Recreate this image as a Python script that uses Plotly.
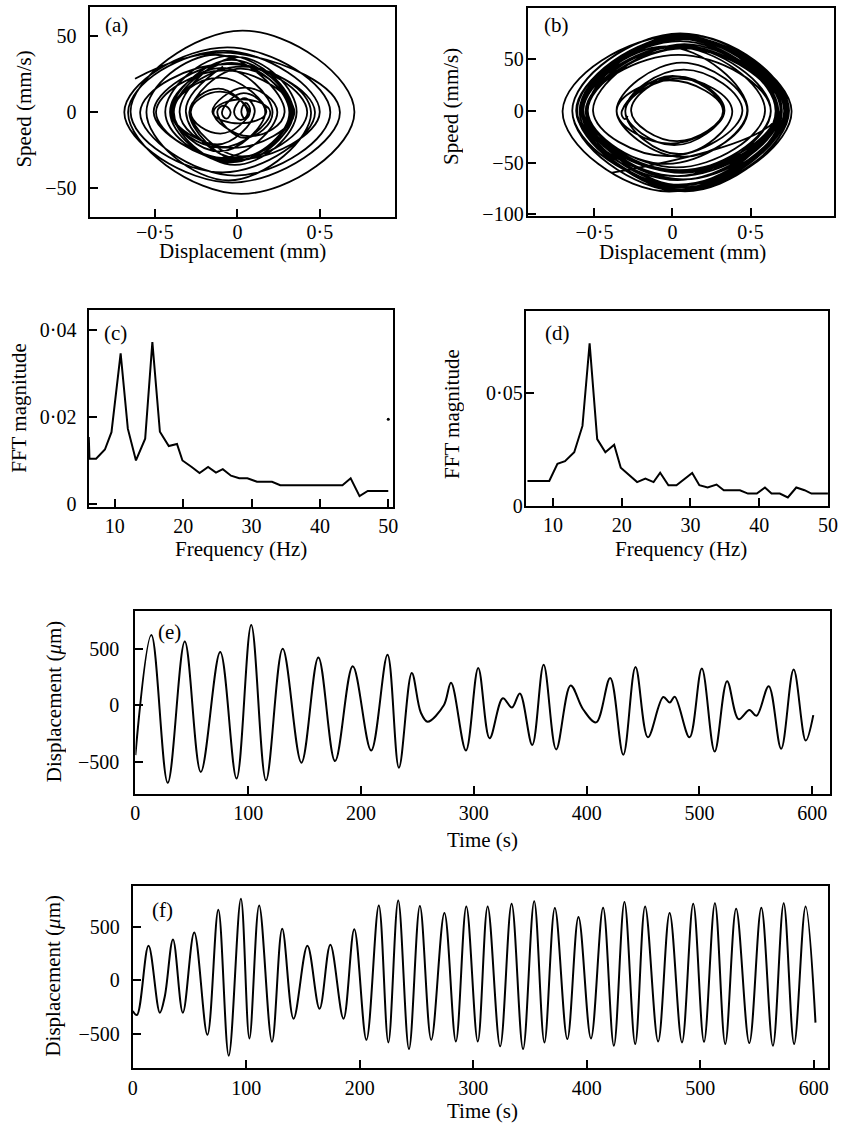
import plotly.graph_objects as go

# ---------------------------------------------------------------- data
# (e) displacement record: times of turning points and shoulders, values in µm
e_time = [0, 14.2, 28.7, 43.8, 58, 75.2, 89.7, 102.7, 115.8, 130.6, 147.2, 162.2,
          177, 192.7, 209, 223.5, 233.6, 245, 253, 259, 273.4, 279.8, 293, 303.9,
          314, 325.7, 333.8, 340.8, 351.8, 361.9, 373, 385.8, 396.8, 408.4, 420.9,
          432.5, 443.3, 454.3, 467.9, 473.7, 478.1, 491.2, 502.1, 513.5, 524.5,
          534.7, 544.3, 550.6, 561.4, 572.4, 583.5, 594.2, 600.9]
e_disp = [-440, 621, -685, 563, -589, 470, -647, 709, -662, 499, -507, 423,
          -493, 345, -399, 446, -551, 286, -64, -145, 0, 199, -399, 330,
          -291, 62, -20, 105, -350, 359, -390, 175, -35, -151, 242,
          -437, 339, -283, 73, 24, 76, -283, 324, -408, 213,
          -122, -41, -93, 169, -385, 315, -312, -87]

# (f) displacement record
f_time = [0, 3.7, 13.9, 23.9, 28.3, 35.5, 44.2, 54.2, 65.8, 75.4, 84.6, 95.3,
          102.8, 111.4, 122.7, 131.7, 141.7, 153.9, 164.6, 174.1, 185.7, 195.2,
          205.9, 216.8, 225.2, 233.9, 243.4, 253, 263, 274.6, 284.7, 293.9, 304,
          312.7, 323.7, 333.8, 343.9, 353.7, 362.7, 371.9, 382.9, 392.7, 403.7,
          414.4, 423.9, 433.2, 442.7, 451.4, 462.9, 473, 483.9, 493.8, 503.3,
          512.9, 522, 531.6, 543.2, 553.8, 564, 573.5, 582.7, 592.8, 601.5]
f_disp = [-287, -324, 324, -302, -148, 383, -302, 448, -509, 661, -704, 763,
          -543, 701, -574, 482, -358, 324, -265, 333, -358, 479,
          -556, 701, -580, 747, -642, 695, -556, 630, -571, 692, -571,
          692, -617, 716, -642, 741, -580, 676, -549, 593, -543,
          679, -611, 732, -595, 692, -571, 630, -580, 716, -574,
          722, -595, 670, -586, 679, -611, 722, -595, 692, -395]

# (a) phase plane: start state, displacement turning points (mm),
# peak speed on each half swing (mm/s), end state
a_start = (-0.62, 22)
a_turn_disp = [0.621, -0.685, 0.563, -0.589, 0.470, -0.647, 0.709, -0.662, 0.499,
               -0.507, 0.423, -0.493, 0.345, -0.399, 0.446, -0.551, 0.286, -0.145,
               0.199, -0.399, 0.330, -0.291, 0.062, -0.020, 0.105, -0.350, 0.359,
               -0.390, 0.175, -0.151, 0.242, -0.437, 0.339, -0.283, 0.073, 0.024,
               0.076, -0.283, 0.324, -0.408, 0.213, -0.122, -0.041, -0.093, 0.169,
               -0.385, 0.315, -0.312]
a_peak_speed = [38.5, -46.4, 42.6, -41.8, 31.7, -39.7, 53.7, -53.9, 40.4,
                -31.2, 31.9, -31.9, 27.5, -23.5, 30.0, -45.0, 37.8, -15.9,
                8.5, -23.3, 34.4, -31.7, 15.5, -5.2, 9.2, -21.3, 36.2,
                -34.8, 22.7, -7.4, 16.2, -30.1, 37.0, -29.1, 13.5, -4.4,
                6.1, -14.1, 28.7, -33.1, 29.1, -16.9, 4.3, -4.3, 12.5,
                -25.9, 32.5, -30.2]
a_end = (-0.087, 30)

# (b) phase plane
b_start = (-0.287, -5)
b_turn_disp = [-0.324, 0.324, -0.302, 0.383, -0.302, 0.448, -0.509, 0.661, -0.704,
               0.763, -0.543, 0.701, -0.574, 0.482, -0.358, 0.324, -0.265, 0.333,
               -0.358, 0.479, -0.556, 0.701, -0.580, 0.747, -0.642, 0.695, -0.556,
               0.630, -0.571, 0.692, -0.571, 0.692, -0.617, 0.716, -0.642, 0.741,
               -0.580, 0.676, -0.549, 0.593, -0.543, 0.679, -0.611, 0.732, -0.595,
               0.692, -0.571, 0.630, -0.580, 0.716, -0.574, 0.722, -0.595, 0.670,
               -0.586, 0.679, -0.611, 0.722, -0.595, 0.692]
b_peak_speed = [-8, 33.7, -33.2, 31.3, -41.7, 39.8, -43.7, 64.6, -78,
                72.7, -74, 72, -59.8, 62.2, -44.5, 29.6, -29.2, 33.4,
                -31.6, 46.7, -51.3, 61.1, -76, 74, -77.5, 73.8, -66.3,
                54.2, -63, 72.8, -66.3, 72, -63.1, 70, -71.3, 74.8,
                -77.8, 72.4, -59, 61.8, -54.7, 60.5, -72, 72, -74,
                71, -58.2, 63, -58.8, 69.4, -72, 71.5, -74, 69.8,
                -57.4, 63.3, -67, 72, -75.9, 67.5]
b_end = (-0.395, -60)

# (c) and (d) spectra
c_freq = [6.2, 6.3, 7.27, 8.56, 9.52, 10.86, 11.91, 13.1, 14.45, 15.5, 16.6, 17.9,
          19.1, 19.9, 21.25, 22.4, 23.65, 24.8, 25.8, 27.0, 28.2, 29.4, 30.8, 33.0,
          34.2, 43.3, 44.5, 45.8, 47.0, 50.0]
c_mag = [0.0155, 0.0105, 0.0105, 0.0126, 0.0166, 0.0347, 0.0174, 0.0101, 0.0151,
         0.0373, 0.0167, 0.0134, 0.0139, 0.0101, 0.0086, 0.0072, 0.0086, 0.0073,
         0.0081, 0.0066, 0.0060, 0.0060, 0.0052, 0.0052, 0.0044, 0.0044, 0.0060,
         0.0019, 0.0031, 0.0031]
c_dot = ([50.0], [0.0196])

d_freq = [6.3, 9.47, 10.66, 11.76, 13.1, 14.3, 15.34, 16.44, 17.63, 18.91, 19.87,
          21.06, 22.25, 23.45, 24.64, 25.6, 26.8, 27.97, 29.2, 30.26, 31.3, 32.5,
          33.8, 34.85, 37.2, 38.37, 39.66, 40.84, 41.8, 43.0, 44.17, 45.4, 46.6,
          47.6, 50.0]
d_mag = [0.0111, 0.0111, 0.0187, 0.0198, 0.0238, 0.0354, 0.0719, 0.0296, 0.0238,
         0.0271, 0.0169, 0.0136, 0.0106, 0.0121, 0.0106, 0.0147, 0.0092, 0.0092,
         0.0121, 0.0146, 0.0092, 0.0082, 0.0095, 0.0070, 0.0070, 0.0055, 0.0055,
         0.0082, 0.0055, 0.0055, 0.0038, 0.0082, 0.0070, 0.0055, 0.0055]

# tick labels (decimal point written as a raised dot)
pp_x_ticks, pp_x_text = [-0.5, 0, 0.5], ["\u22120\u00b75", "0", "0\u00b75"]
a_y_ticks, a_y_text = [-50, 0, 50], ["\u221250", "0", "50"]
b_y_ticks, b_y_text = [-100, -50, 0, 50], ["\u2212100", "\u221250", "0", "50"]
fq_ticks, fq_text = [10, 20, 30, 40, 50], ["10", "20", "30", "40", "50"]
c_y_ticks, c_y_text = [0, 0.02, 0.04], ["0", "0\u00b702", "0\u00b704"]
d_y_ticks, d_y_text = [0, 0.05], ["0", "0\u00b705"]
t_ticks, t_text = [0, 100, 200, 300, 400, 500, 600], ["0", "100", "200", "300", "400", "500", "600"]
ts_y_ticks, ts_y_text = [-500, 0, 500], ["\u2212500", "0", "500"]


def phase_path(start, turns, speeds, end):
    """Phase-plane path: each half swing passes its peak speed midway
    between successive displacement turning points, where speed is zero."""
    xs, ys = [start[0]], [start[1]]
    prev = start[0]
    for xt, vp in zip(turns, speeds):
        xs += [(prev + xt) / 2, xt]
        ys += [vp, 0]
        prev = xt
    xs.append(end[0])
    ys.append(end[1])
    return xs, ys


# ---------------------------------------------------------------- layout helpers
W, H = 853, 1135
SERIF = "Liberation Serif, Times New Roman, serif"


def dx(l, r):
    return [l / W, r / W]


def dy(t, b):
    return [1 - b / H, 1 - t / H]


def axis(domain, rng, tickvals, ticktext, anchor, standoff):
    return dict(domain=domain, range=rng, anchor=anchor,
                tickmode="array", tickvals=tickvals, ticktext=ticktext,
                ticks="inside", ticklen=8, tickwidth=2, tickcolor="black",
                showline=True, linecolor="black", linewidth=2, mirror=True,
                showgrid=False, zeroline=False, ticklabelstandoff=standoff,
                tickfont=dict(family=SERIF, size=20, color="black"))


fig = go.Figure()
LINE = dict(color="black", width=2)

xa, va = phase_path(a_start, a_turn_disp, a_peak_speed, a_end)
fig.add_trace(go.Scatter(x=xa, y=va, mode="lines", xaxis="x", yaxis="y",
                         line=dict(color="black", width=1.8, shape="spline", smoothing=1.3)))
xb, vb = phase_path(b_start, b_turn_disp, b_peak_speed, b_end)
fig.add_trace(go.Scatter(x=xb, y=vb, mode="lines", xaxis="x2", yaxis="y2",
                         line=dict(color="black", width=1.8, shape="spline", smoothing=1.3)))
fig.add_trace(go.Scatter(x=c_freq, y=c_mag, mode="lines", xaxis="x3", yaxis="y3", line=LINE))
fig.add_trace(go.Scatter(x=c_dot[0], y=c_dot[1], mode="markers", xaxis="x3", yaxis="y3",
                         marker=dict(color="black", size=3)))
fig.add_trace(go.Scatter(x=d_freq, y=d_mag, mode="lines", xaxis="x4", yaxis="y4", line=LINE))
fig.add_trace(go.Scatter(x=e_time, y=e_disp, mode="lines", xaxis="x5", yaxis="y5",
                         line=dict(color="black", width=2, shape="spline", smoothing=1.0)))
fig.add_trace(go.Scatter(x=f_time, y=f_disp, mode="lines", xaxis="x6", yaxis="y6",
                         line=dict(color="black", width=2, shape="spline", smoothing=1.0)))

fig.update_layout(
    width=W, height=H, autosize=False, showlegend=False,
    margin=dict(l=0, r=0, t=0, b=0),
    paper_bgcolor="white", plot_bgcolor="white",
    xaxis=axis(dx(87, 397), [-0.89, 0.955], pp_x_ticks, pp_x_text, "y", -4),
    yaxis=axis(dy(7, 219), [-69, 69.3], a_y_ticks, a_y_text, "x", 8),
    xaxis2=axis(dx(532, 844), [-0.928, 1.036], pp_x_ticks, pp_x_text, "y2", -3),
    yaxis2=axis(dy(8, 218), [-101.5, 99.5], b_y_ticks, b_y_text, "x2", -2),
    xaxis3=axis(dx(85, 395), [6.16, 50.7], fq_ticks, fq_text, "y3", 0),
    yaxis3=axis(dy(313, 511.5), [-0.0005, 0.0447], c_y_ticks, c_y_text, "x3", 6),
    xaxis4=axis(dx(530, 838), [6.04, 50.05], fq_ticks, fq_text, "y4", 0),
    yaxis4=axis(dy(314, 511), [0, 0.0862], d_y_ticks, d_y_text, "x4", -3),
    xaxis5=axis(dx(132.7, 839.3), [0, 615.3], t_ticks, t_text, "y5", 0),
    yaxis5=axis(dy(617.3, 801.7), [-783, 830], ts_y_ticks, ts_y_text, "x5", 10),
    xaxis6=axis(dx(130, 837.7), [0, 612.5], t_ticks, t_text, "y6", 1),
    yaxis6=axis(dy(894.3, 1078.3), [-818, 886], ts_y_ticks, ts_y_text, "x6", 7),
)

# axis titles and panel letters: (text, x px, y px, angle, vertical anchor);
# every text box is given a fixed height so it stays inside the page
texts = [
    ("Displacement (mm)", 242, 253, 0, "middle"), ("Speed (mm/s)", 20, 110, -90, "middle"),
    ("Displacement (mm)", 690, 254, 0, "middle"), ("Speed (mm/s)", 454, 108, -90, "middle"),
    ("Frequency (Hz)", 240, 554, 0, "middle"), ("FFT magnitude", 14, 412, -90, "middle"),
    ("Frequency (Hz)", 688, 554, 0, "middle"), ("FFT magnitude", 455, 418, -90, "middle"),
    ("Time (s)", 486, 848, 0, "middle"), ("Displacement (<i>\u03bc</i>m)", 49, 708, -90, "middle"),
    ("Time (s)", 486, 1135, 0, "bottom"), ("Displacement (<i>\u03bc</i>m)", 49, 985, -90, "middle"),
    ("(a)", 114, 25, 0, "middle"), ("(b)", 561, 25, 0, "middle"), ("(c)", 112, 336, 0, "middle"),
    ("(d)", 562, 336, 0, "middle"), ("(e)", 167, 638, 0, "middle"), ("(f)", 160, 918, 0, "middle"),
]
for txt, px, py, ang, yanc in texts:
    fig.add_annotation(text=txt, x=px / W, y=1 - py / H, xref="paper", yref="paper",
                       xanchor="center", yanchor=yanc, showarrow=False,
                       textangle=ang, height=25, valign="middle", borderpad=0,
                       font=dict(family=SERIF, size=21, color="black"))

fig.write_html("out.html")
